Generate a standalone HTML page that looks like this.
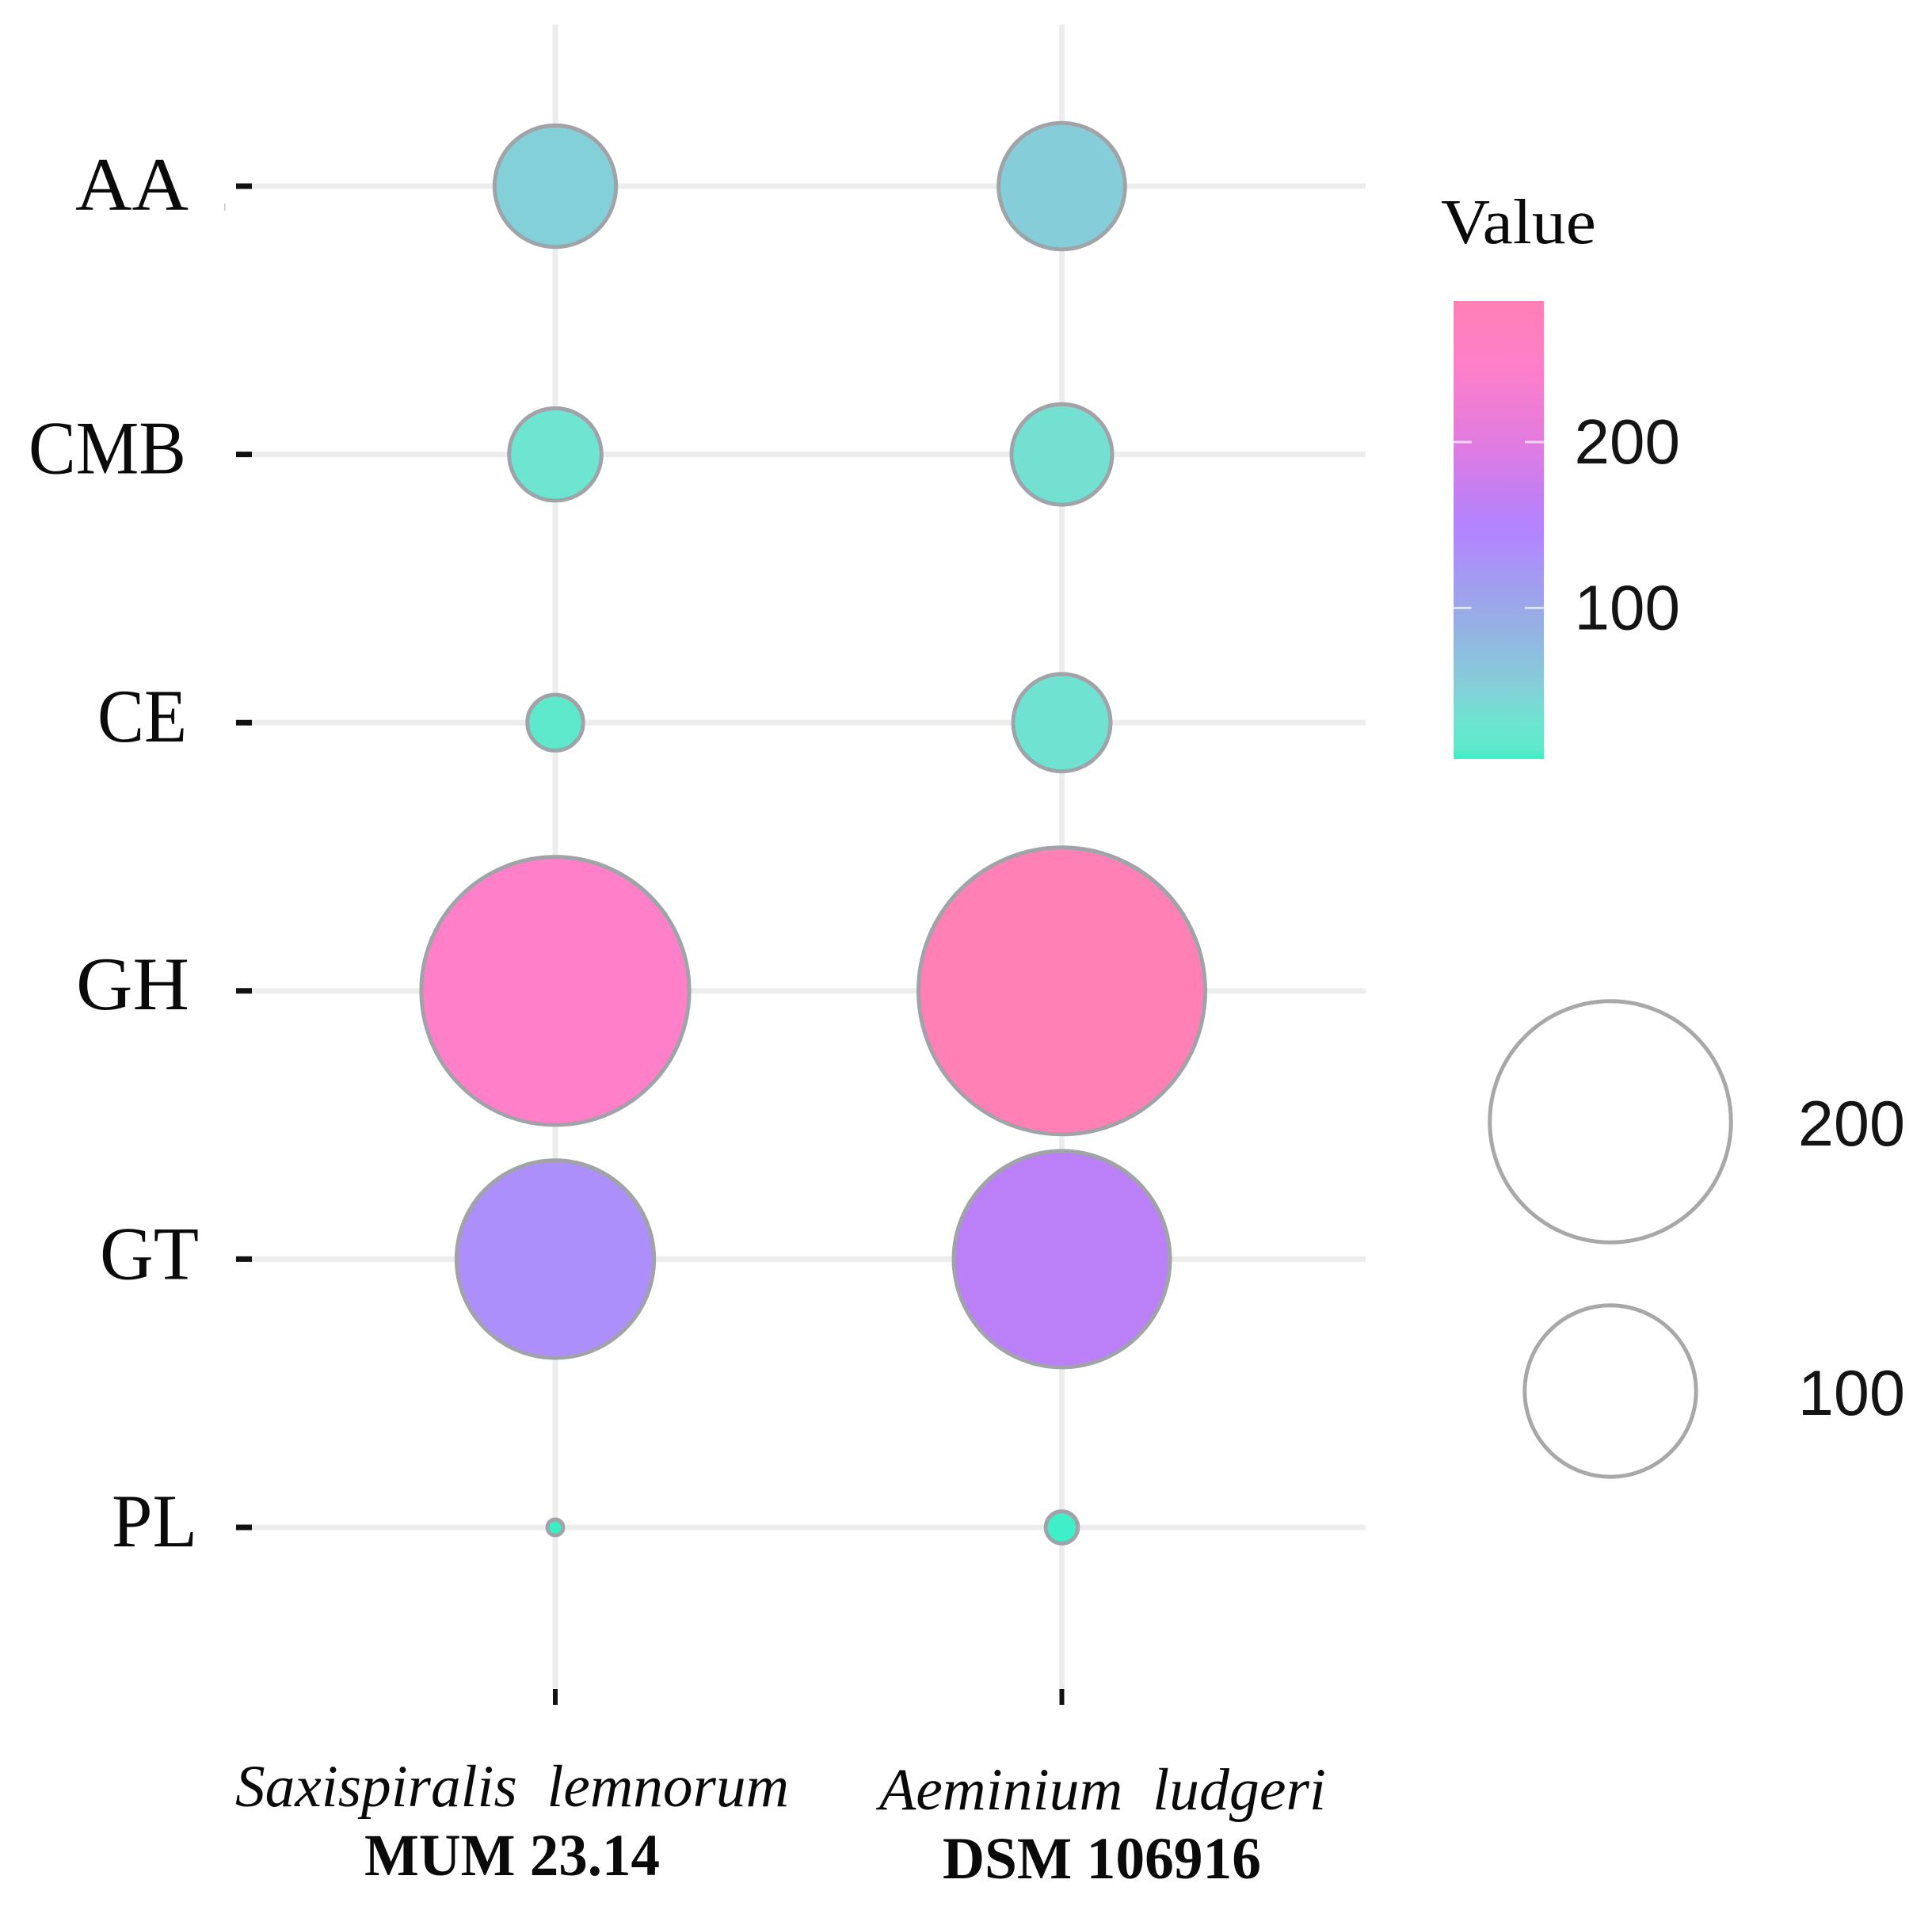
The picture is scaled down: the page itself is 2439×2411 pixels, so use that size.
<!DOCTYPE html>
<html lang="en">
<head>
<meta charset="utf-8">
<title>Bubble chart of CAZyme classes</title>
<style>
html,body{margin:0;padding:0;background:#fff;}
svg{display:block;}
.serif{font-family:"Liberation Serif",serif;fill:#0a0a0a;}
.sans{font-family:"Liberation Sans",sans-serif;fill:#141414;}
</style>
</head>
<body>
<svg id="chart" xmlns="http://www.w3.org/2000/svg" width="2439" height="2411" viewBox="0 0 2439 2411">
  <rect width="2439" height="2411" fill="#ffffff"/>
  <defs>
    <linearGradient id="colorbar-gradient" x1="0" y1="1" x2="0" y2="0"></linearGradient>
  </defs>
  <g id="grid"></g>
  <g id="ticks"></g>
  <g id="bubbles"></g>
  <g id="ylabels"></g>

  <text class="serif" x="297" y="2280" font-size="75" font-style="italic" textLength="699" lengthAdjust="spacingAndGlyphs" xml:space="preserve">Saxispiralis  lemnorum</text>
  <text class="serif" x="460" y="2367" font-size="75" font-weight="bold" textLength="373" lengthAdjust="spacingAndGlyphs">MUM 23.14</text>
  <text class="serif" x="1110" y="2284" font-size="75" font-style="italic" textLength="564" lengthAdjust="spacingAndGlyphs" xml:space="preserve">Aeminium  ludgeri</text>
  <text class="serif" x="1190" y="2371" font-size="75" font-weight="bold" textLength="402" lengthAdjust="spacingAndGlyphs">DSM 106916</text>

  <text class="serif" x="1819" y="307" font-size="80" textLength="196" lengthAdjust="spacingAndGlyphs">Value</text>
  <rect x="1835" y="380" width="114" height="578" fill="url(#colorbar-gradient)"/>
  <g id="legend"></g>
  <rect x="283" y="257" width="1.5" height="9" fill="#c8c8c8"/>
</svg>
<script>
const categories = ['AA', 'CMB', 'CE', 'GH', 'GT', 'PL'];
const strains = ['Saxispiralis lemnorum MUM 23.14', 'Aeminium ludgeri DSM 106916'];
const seriesSaxispiralis = [51, 31, 15, 248, 133, 9];
const seriesAeminium = [55, 36, 34, 285, 160, 10];
const colorStopValues = [9, 15, 30, 52, 100, 133, 147, 160, 200, 248, 285];
const colorStopColors = ['#38f0c6', '#5ee8cc', '#6ce6d0', '#84cfd8', '#9aa8e8', '#ac8ffa', '#b385ff', '#bb80f8', '#e27be0', '#ff7fc8', '#ff80b5'];
const colorTicks = [200, 100];
const sizeTicks = [200, 100];

const NS = 'http://www.w3.org/2000/svg';
const valueMin = 9, valueMax = 285;

function xScale(i) { return 701 + i * 639.5; }
function yScale(i) { return 235 + i * 338.6; }
function radiusScale(v) {
  const t = Math.sqrt(Math.max(0, (v - valueMin) / (valueMax - valueMin)));
  return 10 + 171 * t;
}
function colorbarY(v) { return 958 - (v - valueMin) / (valueMax - valueMin) * 578; }
function parseHex(h) { return [1, 3, 5].map(function (k) { return parseInt(h.substr(k, 2), 16); }); }
function colorScale(v) {
  let i = 0;
  while (i < colorStopValues.length - 2 && v > colorStopValues[i + 1]) i++;
  const a = colorStopValues[i], b = colorStopValues[i + 1];
  const t = Math.min(1, Math.max(0, (v - a) / (b - a)));
  const ca = parseHex(colorStopColors[i]), cb = parseHex(colorStopColors[i + 1]);
  return 'rgb(' + ca.map(function (c, k) { return Math.round(c + (cb[k] - c) * t); }).join(',') + ')';
}
function make(parent, tag, attrs, text) {
  const el = document.createElementNS(NS, tag);
  Object.keys(attrs).forEach(function (k) { el.setAttribute(k, attrs[k]); });
  if (text !== undefined) el.textContent = text;
  parent.appendChild(el);
  return el;
}

const gridG = document.getElementById('grid');
const tickG = document.getElementById('ticks');
const bubbleG = document.getElementById('bubbles');
const yLabelG = document.getElementById('ylabels');
const legendG = document.getElementById('legend');
const gradient = document.getElementById('colorbar-gradient');

colorStopValues.forEach(function (v, i) {
  make(gradient, 'stop', { offset: (v - valueMin) / (valueMax - valueMin), 'stop-color': colorStopColors[i] });
});

const labelBox = {
  AA:  { left: 95,  width: 143, drop: 30 },
  CMB: { left: 36,  width: 199, drop: 24 },
  CE:  { left: 123, width: 113, drop: 24 },
  GH:  { left: 96,  width: 143, drop: 23 },
  GT:  { left: 126, width: 125, drop: 25 },
  PL:  { left: 141, width: 108, drop: 24 }
};
const labelFontSize = 95;

categories.forEach(function (cat, i) {
  const y = yScale(i);
  const line = make(gridG, 'line', { x1: 318, x2: 1724, y1: y, y2: y, stroke: '#eeeded', 'stroke-width': 7 });
  
  
  const tick = make(tickG, 'line', { x1: 298, x2: 318, y1: y, y2: y, stroke: '#111', 'stroke-width': 7 });
  
  
  const box = labelBox[cat];
  const label = make(yLabelG, 'text', { x: box.left, y: y + box.drop, 'font-size': labelFontSize, class: 'serif', textLength: box.width, lengthAdjust: 'spacingAndGlyphs' }, cat);
  
  
});

strains.forEach(function (s, i) {
  const x = xScale(i);
  const line = make(gridG, 'line', { x1: x, x2: x, y1: 31, y2: 2132, stroke: '#eeeded', 'stroke-width': 7 });
  
  
  const tick = make(tickG, 'line', { x1: x, x2: x, y1: 2132, y2: 2152, stroke: '#111', 'stroke-width': 6 });
  
  
});

[seriesSaxispiralis, seriesAeminium].forEach(function (series, s) {
  series.forEach(function (v, i) {
    const c = make(bubbleG, 'circle', {
      cx: xScale(s), cy: yScale(i), r: radiusScale(v),
      fill: colorScale(v), stroke: '#a0a3a8', 'stroke-width': 5
    });
    
    
  });
});

colorTicks.forEach(function (v) {
  const y = colorbarY(v);
  const left = make(legendG, 'line', { x1: 1835, x2: 1858, y1: y, y2: y, stroke: '#fff', 'stroke-opacity': 0.65, 'stroke-width': 3 });
  
  
  const right = make(legendG, 'line', { x1: 1925, x2: 1949, y1: y, y2: y, stroke: '#fff', 'stroke-opacity': 0.65, 'stroke-width': 3 });
  
  
  const t = make(legendG, 'text', { x: 2121, y: y + 27, 'text-anchor': 'end', 'font-size': 80, class: 'sans' }, String(v));
  
  
});

sizeTicks.forEach(function (v, i) {
  const cy = 1416 + i * 340;
  const c = make(legendG, 'circle', { cx: 2033, cy: cy, r: radiusScale(v), fill: '#fff', stroke: '#a8a8a8', 'stroke-width': 5 });
  
  
  const t = make(legendG, 'text', { x: 2405, y: cy + 30, 'text-anchor': 'end', 'font-size': 81, class: 'sans' }, String(v));
  
  
});
</script>
</body>
</html>
